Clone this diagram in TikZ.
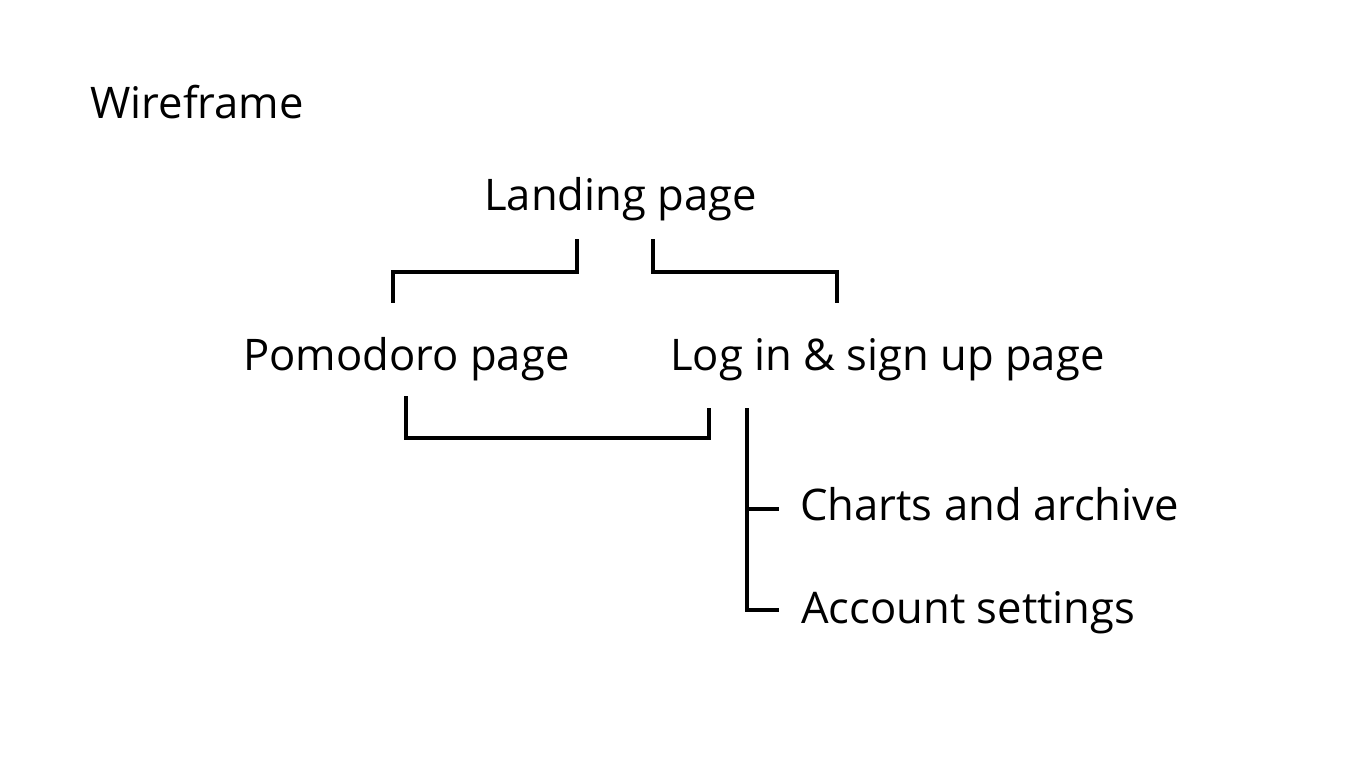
\documentclass[tikz,border=0pt]{standalone}
\usepackage{fontspec}
\setmainfont{Open Sans}
\usetikzlibrary{positioning}

\begin{document}
\begin{tikzpicture}[
    x=0.02cm, y=-0.02cm,
    font=\fontsize{24.8}{29}\selectfont,
    page/.style={inner sep=0pt, anchor=base west},
    link/.style={line width=2.8pt, line cap=butt, line join=miter}
  ]
  \useasboundingbox (0,0) rectangle (1366,768);

  \node[page] (wire)    at (90,118)  {Wireframe};
  \node[page] (landing) at (484,210) {Landing page};
  \node[page] (pomo)    at (243,370) {Pomodoro page};
  \node[page] (login)   at (670,370) {Log in \& sign up page};
  \node[page] (charts)  at (800,520) {Charts and archive};
  \node[page] (account) at (801,623) {Account settings};

  % bracket ends
  \coordinate (land-l) at (577,239);
  \coordinate (land-r) at (653,239);
  \coordinate (pomo-t) at (393,303);
  \coordinate (login-t) at (837,303);
  \coordinate (pomo-b) at (406,396);
  \coordinate (login-b) at (709,408);
  \coordinate (trunk) at (747,408);
  \coordinate (charts-w) at (779,509);
  \coordinate (account-w) at (779,610);

  \draw[link] (land-l) -- ++(0,33) -| (pomo-t);
  \draw[link] (land-r) -- ++(0,33) -| (login-t);
  \draw[link] (pomo-b) -- ++(0,42) -| (login-b);
  \draw[link] (trunk) |- (account-w);
  \draw[link] (trunk |- charts-w) -- (charts-w);

\end{tikzpicture}
\end{document}
